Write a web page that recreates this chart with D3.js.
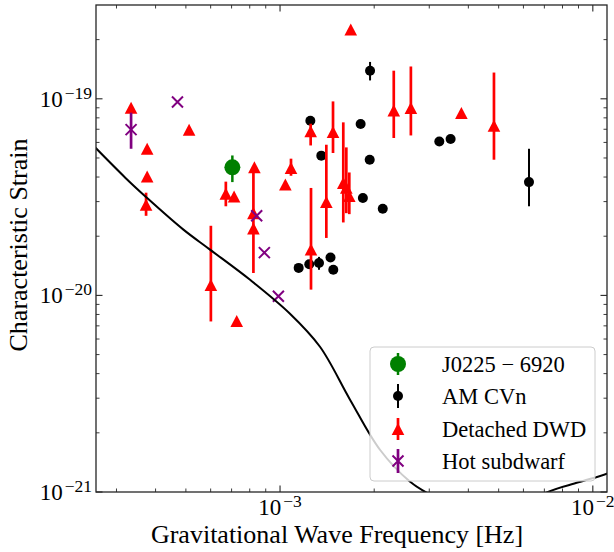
<!DOCTYPE html>
<html>
<head>
<meta charset="utf-8">
<script src="https://cdn.jsdelivr.net/npm/d3@7"></script>
<style>
  body { margin: 0; background: #fff; }
  svg { display: block; }
  text { font-family: "Liberation Serif", "Times New Roman", serif; fill: #000; }
</style>
</head>
<body>
<svg width="614" height="552"></svg>
<script>
// axis ranges
const xDomain = [2.58e-4, 1.11e-2];
const yDomain = [1e-21, 3e-19];
const xMajor = [1e-3, 1e-2];
const yMajor = [1e-21, 1e-20, 1e-19];

// sensitivity curve
const curveFreq = [2.4e-4, 3.2e-4, 3.75e-4, 4.91e-4, 5.97e-4, 8.02e-4, 1.076e-3, 1.342e-3, 1.674e-3, 2.087e-3, 2.6e-3, 2.95e-3, 4.0e-3, 5.0e-3, 6.0e-3, 7.13e-3, 9.0e-3, 1.109e-2, 1.2e-2];
const curveStrain = [6.3e-20, 3.97e-20, 3.14e-20, 2.16e-20, 1.71e-20, 1.2e-20, 8.07e-21, 5.48e-21, 2.95e-21, 1.64e-21, 1.13e-21, 9.9e-22, 8.0e-22, 7.6e-22, 8.3e-22, 9.95e-22, 1.12e-21, 1.24e-21, 1.32e-21];

// J0225-6920
const jFreq = [7.04e-4];
const jStrain = [4.48e-20];
const jLo = [3.77e-20];
const jHi = [5.15e-20];

// AM CVn
const amFreq = [1.94e-3, 1.25e-3, 1.81e-3, 1.355e-3, 1.935e-3, 1.84e-3, 2.13e-3, 1.147e-3, 1.24e-3, 1.332e-3, 1.45e-3, 1.48e-3, 3.23e-3, 3.51e-3, 6.25e-3];
const amStrain = [1.39e-19, 7.74e-20, 7.45e-20, 5.14e-20, 4.9e-20, 3.13e-20, 2.76e-20, 1.38e-20, 1.44e-20, 1.46e-20, 1.56e-20, 1.35e-20, 6.07e-20, 6.25e-20, 3.77e-20];
const amLo = [1.24e-19, null, null, null, null, null, null, null, null, 1.35e-20, null, null, null, null, 2.84e-20];
const amHi = [1.54e-19, null, null, null, null, null, null, null, null, 1.57e-20, null, null, null, null, 5.57e-20];

// detached double white dwarfs
const dwdFreq = [3.34e-4, 3.76e-4, 3.76e-4, 3.73e-4, 5.12e-4, 6.01e-4, 7.27e-4, 6.71e-4, 7.13e-4, 8.28e-4, 8.22e-4, 8.22e-4, 1.084e-3, 1.04e-3, 1.256e-3, 1.253e-3, 1.477e-3, 1.406e-3, 1.593e-3, 1.629e-3, 1.665e-3, 1.683e-3, 2.31e-3, 2.62e-3, 3.8e-3, 4.83e-3];
const dwdStrain = [9.01e-20, 5.57e-20, 4.02e-20, 2.89e-20, 6.96e-20, 1.13e-20, 7.41e-21, 3.29e-20, 3.18e-20, 4.49e-20, 2.62e-20, 2.19e-20, 4.45e-20, 3.67e-20, 1.71e-20, 6.83e-20, 6.78e-20, 2.99e-20, 3.73e-20, 3.53e-20, 3.2e-20, 2.25e-19, 8.73e-20, 8.98e-20, 8.47e-20, 7.3e-20];
const dwdLo = [null, null, null, 2.54e-20, null, 7.37e-21, null, 2.84e-20, null, null, null, 1.3e-20, 4.06e-20, null, 1.07e-20, 5.79e-20, 5.3e-20, 1.96e-20, 2.35e-20, 2.62e-20, 2.59e-20, null, 6.32e-20, 6.51e-20, null, 4.9e-20];
const dwdHi = [null, null, null, 3.33e-20, null, 2.26e-20, null, 3.79e-20, null, null, null, 4.52e-20, 4.96e-20, null, 3.52e-20, 7.47e-20, 9.7e-20, 5.84e-20, 7.59e-20, 5.66e-20, 4.22e-20, null, 1.39e-19, 1.46e-19, null, 1.36e-19];

// hot subdwarfs
const sdFreq = [3.34e-4, 4.7e-4, 8.42e-4, 8.91e-4, 9.88e-4];
const sdStrain = [6.97e-20, 9.63e-20, 2.54e-20, 1.65e-20, 9.9e-21];
const sdLo = [5.57e-20, null, null, null, null];
const sdHi = [8.5e-20, null, null, null, null];

const legendLabels = ['J0225 \u2212 6920', 'AM CVn', 'Detached DWD', 'Hot subdwarf'];

const serif = '"Liberation Serif", "Times New Roman", serif';
const svg = d3.select('svg');
const width = +svg.attr('width');
const height = +svg.attr('height');
const margin = { top: 5, right: 7, bottom: 60, left: 96 };

const x = d3.scaleLog().domain(xDomain).range([margin.left, width - margin.right]);
const y = d3.scaleLog().domain(yDomain).range([height - margin.bottom, margin.top]);
const [x0, x1] = x.range();
const [y0, y1] = y.range(); // y0 bottom, y1 top

const toRows = (f, h, lo, hi) => f.map((v, i) => ({ f: v, h: h[i], lo: lo ? lo[i] : null, hi: hi ? hi[i] : null }));

svg.append('clipPath').attr('id', 'plot-clip')
  .append('rect').attr('x', x0).attr('y', y1).attr('width', x1 - x0).attr('height', y0 - y1);

const plot = svg.append('g').attr('clip-path', 'url(#plot-clip)');

const drawErrors = (rows, color, w) => {
  plot.append('g').selectAll('line')
    .data(rows.filter(d => d.lo != null))
    .enter().append('line')
    .attr('x1', d => x(d.f)).attr('x2', d => x(d.f))
    .attr('y1', d => y(d.hi)).attr('y2', d => y(d.lo))
    .attr('stroke', color).attr('stroke-width', w);
};

const triPath = 'M0,-6L6.3,6L-6.3,6Z';
const crossPath = 'M-5.5,-5.5L5.5,5.5M-5.5,5.5L5.5,-5.5';

// J0225
const jRows = toRows(jFreq, jStrain, jLo, jHi);
drawErrors(jRows, 'green', 2.5);
plot.append('g').selectAll('circle').data(jRows).enter().append('circle')
  .attr('cx', d => x(d.f)).attr('cy', d => y(d.h)).attr('r', 8).attr('fill', 'green');

// AM CVn
const amRows = toRows(amFreq, amStrain, amLo, amHi);
drawErrors(amRows, 'black', 2);
plot.append('g').selectAll('circle').data(amRows).enter().append('circle')
  .attr('cx', d => x(d.f)).attr('cy', d => y(d.h)).attr('r', 5).attr('fill', 'black');

// detached DWD
const dwdRows = toRows(dwdFreq, dwdStrain, dwdLo, dwdHi);
drawErrors(dwdRows, 'red', 2.7);
plot.append('g').selectAll('path').data(dwdRows).enter().append('path')
  .attr('d', triPath)
  .attr('transform', d => `translate(${x(d.f)},${y(d.h)})`)
  .attr('fill', 'red');

// hot subdwarf
const sdRows = toRows(sdFreq, sdStrain, sdLo, sdHi);
drawErrors(sdRows, 'purple', 2.7);
plot.append('g').selectAll('path').data(sdRows).enter().append('path')
  .attr('d', crossPath)
  .attr('transform', d => `translate(${x(d.f)},${y(d.h)})`)
  .attr('stroke', 'purple').attr('stroke-width', 2).attr('fill', 'none');

// sensitivity curve
const curveRows = curveFreq.map((f, i) => ({ f, h: curveStrain[i] }));
plot.append('path')
  .datum(curveRows)
  .attr('d', d3.line().x(d => x(d.f)).y(d => y(d.h)).curve(d3.curveCatmullRom.alpha(0.5)))
  .attr('fill', 'none').attr('stroke', 'black').attr('stroke-width', 2);

// ticks (inward, all sides)
const minorTicks = (dom) => {
  const out = [];
  for (let e = Math.floor(Math.log10(dom[0])); e <= Math.ceil(Math.log10(dom[1])); e++) {
    for (let k = 2; k <= 9; k++) {
      const v = k * Math.pow(10, e);
      if (v > dom[0] && v < dom[1]) out.push(v);
    }
  }
  return out;
};
const axisG = svg.append('g').attr('stroke', '#262626');
const tickX = (vals, len, w) => {
  vals.forEach(v => {
    axisG.append('line').attr('x1', x(v)).attr('x2', x(v)).attr('y1', y0).attr('y2', y0 - len).attr('stroke-width', w);
    axisG.append('line').attr('x1', x(v)).attr('x2', x(v)).attr('y1', y1).attr('y2', y1 + len).attr('stroke-width', w);
  });
};
const tickY = (vals, len, w) => {
  vals.forEach(v => {
    axisG.append('line').attr('y1', y(v)).attr('y2', y(v)).attr('x1', x0).attr('x2', x0 + len).attr('stroke-width', w);
    axisG.append('line').attr('y1', y(v)).attr('y2', y(v)).attr('x1', x1).attr('x2', x1 - len).attr('stroke-width', w);
  });
};
tickX(xMajor.filter(v => v >= xDomain[0] && v <= xDomain[1]), 6.5, 1.1);
tickX(minorTicks(xDomain), 3.5, 0.9);
tickY(yMajor, 6.5, 1.1);
tickY(minorTicks(yDomain), 3.5, 0.9);

svg.append('rect')
  .attr('x', x0).attr('y', y1).attr('width', x1 - x0).attr('height', y0 - y1)
  .attr('fill', 'none').attr('stroke', '#262626').attr('stroke-width', 1.3);

// tick labels
const expLabel = (sel, v) => {
  const e = Math.round(Math.log10(v));
  sel.append('tspan').text('10');
  sel.append('tspan').attr('dx', 2).attr('dy', -8).attr('font-size', 17.5).text('\u2212' + Math.abs(e));
};
xMajor.forEach(v => {
  const t = svg.append('text').attr('x', x(v)).attr('y', 515).attr('text-anchor', 'middle')
    .attr('font-family', serif).attr('font-size', 23);
  expLabel(t, v);
});
yMajor.forEach(v => {
  const t = svg.append('text').attr('x', 92).attr('y', y(v) + 8).attr('text-anchor', 'end')
    .attr('font-family', serif).attr('font-size', 23);
  expLabel(t, v);
});

// axis titles
svg.append('text').attr('x', 337).attr('y', 543).attr('text-anchor', 'middle')
  .attr('font-family', serif).attr('font-size', 26)
  .text('Gravitational Wave Frequency [Hz]');
svg.append('text').attr('transform', 'translate(27,245) rotate(-90)').attr('text-anchor', 'middle')
  .attr('font-family', serif).attr('font-size', 26)
  .text('Characteristic Strain');

// legend
const leg = svg.append('g');
leg.append('rect').attr('x', 370).attr('y', 347).attr('width', 225).attr('height', 134).attr('rx', 4)
  .attr('fill', 'white').attr('fill-opacity', 0.8).attr('stroke', '#cccccc').attr('stroke-width', 1);
const rowY = [364, 396, 429, 461];
const mx = 398;
const legendSwatch = [
  g => { g.append('line').attr('y1', -11).attr('y2', 11).attr('stroke', 'green').attr('stroke-width', 2.5);
         g.append('circle').attr('r', 8).attr('fill', 'green'); },
  g => { g.append('line').attr('y1', -12).attr('y2', 12).attr('stroke', 'black').attr('stroke-width', 2);
         g.append('circle').attr('r', 5).attr('fill', 'black'); },
  g => { g.append('line').attr('y1', -11).attr('y2', 11).attr('stroke', 'red').attr('stroke-width', 2.7);
         g.append('path').attr('d', triPath).attr('fill', 'red'); },
  g => { g.append('line').attr('y1', -12).attr('y2', 12).attr('stroke', 'purple').attr('stroke-width', 2.7);
         g.append('path').attr('d', crossPath).attr('stroke', 'purple').attr('stroke-width', 2).attr('fill', 'none'); }
];
legendLabels.forEach((lab, i) => {
  const g = leg.append('g').attr('transform', `translate(${mx},${rowY[i]})`);
  legendSwatch[i](g);
  leg.append('text').attr('x', 442).attr('y', rowY[i] + 8)
    .attr('font-family', serif).attr('font-size', 22.5).text(lab);
});
</script>
</body>
</html>
